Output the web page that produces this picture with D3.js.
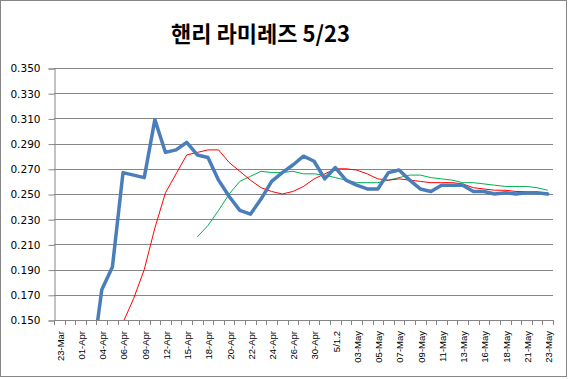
<!DOCTYPE html>
<html>
<head>
<meta charset="utf-8">
<script src="https://cdn.jsdelivr.net/npm/d3@7"></script>
<style>
  html, body { margin: 0; padding: 0; background: #fff; }
  svg { display: block; }
</style>
</head>
<body>
<svg id="chart" width="568" height="379"></svg>
<script>
const title = "핸리 라미레즈 5/23";

const categories = [
  "23-Mar","31-Mar","01-Apr","03-Apr","04-Apr","05-Apr","06-Apr","08-Apr","09-Apr","10-Apr",
  "12-Apr","13-Apr","15-Apr","17-Apr","18-Apr","19-Apr","20-Apr","21-Apr","22-Apr","23-Apr",
  "24-Apr","25-Apr","26-Apr","28-Apr","30-Apr","5/1","5/1.2","02-May","03-May","04-May",
  "05-May","06-May","07-May","08-May","09-May","10-May","11-May","12-May","13-May","15-May",
  "16-May","17-May","18-May","20-May","21-May","22-May","23-May"
];

// season average (thick blue)
const seriesAvg = [
  0.000,0.100,0.083,0.111,0.174,0.192,0.267,0.265,0.263,0.309,
  0.283,0.285,0.291,0.281,0.279,0.261,0.248,0.237,0.234,0.246,
  0.260,0.267,0.273,0.280,0.276,0.262,0.271,0.261,0.257,0.254,
  0.254,0.267,0.269,0.261,0.254,0.252,0.257,0.257,0.257,0.252,
  0.252,0.250,0.251,0.250,0.251,0.251,0.250
];

// red line
const seriesRed = [
  null,null,null,null,null,null,0.148,0.167,0.190,0.223,
  0.251,0.266,0.281,0.283,0.285,0.285,0.275,0.268,0.261,0.255,
  0.252,0.250,0.252,0.256,0.262,0.266,0.270,0.270,0.269,0.266,
  0.262,0.261,0.262,0.261,0.260,0.259,0.259,0.259,0.258,0.255,
  0.254,0.253,0.253,0.252,0.252,0.251,0.251
];

// green line
const seriesGreen = [
  null,null,null,null,null,null,null,null,null,null,
  null,null,null,0.216,0.225,0.237,0.250,0.260,0.264,0.268,
  0.267,0.267,0.268,0.266,0.266,0.265,0.263,0.261,0.259,0.259,
  0.259,0.261,0.263,0.265,0.265,0.263,0.262,0.261,0.259,0.259,
  0.258,0.257,0.256,0.256,0.256,0.255,0.253
];

const yTicks = [0.150,0.170,0.190,0.210,0.230,0.250,0.270,0.290,0.310,0.330,0.350];

const svg = d3.select("#chart");
const L = 54, R = 553, T = 68, B = 320;
const gridColor = "#868686";

// chart border
svg.append("rect").attr("x",0.5).attr("y",0.5).attr("width",566).attr("height",376)
  .attr("fill","#fff").attr("stroke","#868686");

// title
svg.append("text").attr("x",260.5).attr("y",42).attr("text-anchor","middle")
  .attr("font-family","'Noto Sans CJK KR', sans-serif").attr("font-weight","bold")
  .attr("font-size",22).attr("fill","#000").text(title);

const x = d3.scaleBand().domain(categories).range([L,R]);
const y = d3.scaleLinear().domain([0.15,0.35]).range([B,T]);

// gridlines
svg.append("g").selectAll("line").data(yTicks).join("line")
  .attr("x1",L).attr("x2",R)
  .attr("y1",d=>Math.round(y(d))+0.5).attr("y2",d=>Math.round(y(d))+0.5)
  .attr("stroke",gridColor).attr("stroke-width",1);

// y axis
const yAxis = d3.axisLeft(y).tickValues(yTicks).tickFormat(d3.format(".3f"))
  .tickSize(6).tickPadding(8);
const gy = svg.append("g").attr("transform",`translate(${L+0.5},0.5)`).call(yAxis);
gy.select(".domain").attr("stroke",gridColor);
gy.selectAll(".tick line").attr("stroke",gridColor);
gy.selectAll(".tick text").attr("font-family","'DejaVu Sans', sans-serif")
  .attr("font-size",10.5).attr("fill","#000");

// x axis line
svg.append("line").attr("x1",L).attr("x2",R).attr("y1",B+0.5).attr("y2",B+0.5)
  .attr("stroke",gridColor);
// boundary ticks
const bounds = categories.map(c=>x(c)).concat([x(categories[categories.length-1])+x.bandwidth()]);
svg.append("g").selectAll("line").data(bounds).join("line")
  .attr("x1",d=>Math.round(d)+0.5).attr("x2",d=>Math.round(d)+0.5)
  .attr("y1",B).attr("y2",B+5).attr("stroke",gridColor);

// x labels
const xAxis = d3.axisBottom(x).tickSize(0)
  .tickValues(categories.filter((c,i)=>i%2===0));
const gx = svg.append("g").attr("transform",`translate(0,${B})`).call(xAxis);
gx.select(".domain").remove();
gx.selectAll(".tick text")
  .attr("transform","rotate(-90)")
  .attr("x",-11).attr("y",1).attr("dy","0.35em")
  .attr("text-anchor","end")
  .attr("font-family","'Liberation Sans', sans-serif")
  .attr("font-size",9.5).attr("fill","#000");

// clip
svg.append("clipPath").attr("id","plotclip").append("rect")
  .attr("x",L).attr("y",T-5).attr("width",R-L).attr("height",B-T+5);

const line = d3.line()
  .defined(d=>d.v!==null)
  .x(d=>x(d.c)+x.bandwidth()/2)
  .y(d=>y(d.v));

const mk = arr => categories.map((c,i)=>({c, v: arr[i]}));

const plot = svg.append("g").attr("clip-path","url(#plotclip)");
plot.append("path").datum(mk(seriesGreen)).attr("d",line)
  .attr("fill","none").attr("stroke","#00B050").attr("stroke-width",1);
plot.append("path").datum(mk(seriesRed)).attr("d",line)
  .attr("fill","none").attr("stroke","#FF0000").attr("stroke-width",1);
plot.append("path").datum(mk(seriesAvg)).attr("d",line)
  .attr("fill","none").attr("stroke","#4A7EBB").attr("stroke-width",3.5)
  .attr("stroke-linejoin","round").attr("stroke-linecap","round");
</script>
</body>
</html>
